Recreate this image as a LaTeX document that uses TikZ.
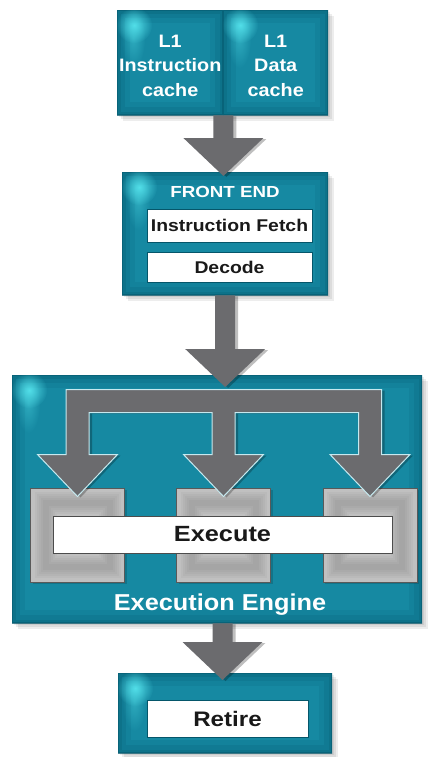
\documentclass[tikz,border=0pt]{standalone}
\usepackage{fontspec}
\setmainfont{Liberation Sans}
\usepackage{graphicx}
\usetikzlibrary{calc,fadings}

\definecolor{tealmid}{HTML}{1689A2}
\definecolor{tealdark}{HTML}{05566A}
\definecolor{tealhi}{HTML}{5AEAF2}
\definecolor{arrowgray}{HTML}{6B6B6E}
\definecolor{unitgray}{HTML}{C0C0C0}
\definecolor{unitdark}{HTML}{6E6E6E}
\definecolor{outlinecyan}{HTML}{C6E9EF}

% soft round glow
\tikzfading[name=softspot, inner color=transparent!0, outer color=transparent!100]

% horizontally widened text
\newcommand\stretchtxt[2]{\scalebox{#1}[1]{#2}}

% straight block arrow: #1 = start of the shaft, #2 = tip
\newcommand\blockarrow[2]{%
  \fill[arrowstyle] let \p1=(#1), \p2=(#2) in
    (\x2-10pt,\y1) -- (\x2+10pt,\y1) -- (\x2+10pt,\y2+38pt) --
    (\x2+40pt,\y2+38pt) -- (\x2,\y2) -- (\x2-40pt,\y2+38pt) --
    (\x2-10pt,\y2+38pt) -- cycle;}

\tikzset{
  softshadow/.style={
    preaction={fill=black,opacity=.07,transform canvas={shift={(2,2)}}},
    preaction={fill=black,opacity=.07,transform canvas={shift={(4,4)}}},
    preaction={fill=black,opacity=.07,transform canvas={shift={(6,6)}}}},
  tealbox/.style={softshadow, rectangle, inner sep=0pt, anchor=north west,
    fill=tealmid,
    path picture={
      \foreach \w/\o in {26/.12, 16/.16, 7/.22, 2/.5}{
        \draw[tealdark, line width=\w pt, opacity=\o]
          (path picture bounding box.north west) rectangle
          (path picture bounding box.south east);}
      \fill[tealhi, path fading=softspot, opacity=.35]
        ([shift={(16,28)}]path picture bounding box.north west)
        ellipse (12 and 30);
      \fill[tealhi, path fading=softspot, opacity=.85]
        ([shift={(17,15)}]path picture bounding box.north west) circle (18);
    }},
  whitebox/.style={rectangle, inner sep=0pt, fill=white, draw=tealdark,
    line width=.8pt, text=black!90},
  unitbox/.style={rectangle, inner sep=0pt, fill=unitgray, draw=black!65,
    line width=1pt, minimum width=94, minimum height=94,
    preaction={fill=black,opacity=.15,transform canvas={shift={(2,2)}}},
    path picture={
      \foreach \w in {22,18,14,10,6}{
        \draw[unitdark, line width=\w pt, opacity=.07]
          ([shift={(15,15)}]path picture bounding box.north west) rectangle
          ([shift={(-15,-15)}]path picture bounding box.south east);}
    }},
  titletext/.style={text=white, align=center, font=\bfseries#1},
  arrowstyle/.style={fill=arrowgray,
    preaction={fill=black,opacity=.25,transform canvas={shift={(3,1)}}}},
}

\begin{document}
\begin{tikzpicture}[x=1pt,y=-1pt]
  \useasboundingbox[fill=white] (0,0) rectangle (432,757);

  % L1 caches
  \node[tealbox, minimum width=106, minimum height=105] (l1i) at (117,10) {};
  \node[tealbox, minimum width=105, minimum height=105] (l1d) at (223,10) {};
  \node[titletext={\fontsize{18}{24.5}\selectfont}] (l1itxt)
    at ([yshift=-3pt]l1i.center)
    {\stretchtxt{1.1}{L1}\\\stretchtxt{1.1}{Instruction}\\\stretchtxt{1.1}{cache}};
  \node[titletext={\fontsize{18}{24.5}\selectfont}] (l1dtxt)
    at ([yshift=-3pt]l1d.center)
    {\stretchtxt{1.1}{L1}\\\stretchtxt{1.1}{Data}\\\stretchtxt{1.1}{cache}};

  % front end
  \node[tealbox, minimum width=206, minimum height=123] (fe) at (122,172) {};
  \node[titletext={\fontsize{16}{18}\selectfont}] (fetitle) at (225,192)
    {\stretchtxt{1.17}{FRONT END}};
  \node[whitebox, minimum width=165, minimum height=33,
        font=\bfseries\fontsize{17}{19}\selectfont] (fetch) at (229.5,225.5)
    {\stretchtxt{1.14}{Instruction Fetch}};
  \node[whitebox, minimum width=165, minimum height=30,
        font=\bfseries\fontsize{17}{19}\selectfont] (decode) at (229.5,267)
    {\stretchtxt{1.14}{Decode}};

  % execution engine
  \node[tealbox, minimum width=410, minimum height=248] (ex) at (12,375) {};
  \node[unitbox] (u1) at (77.5,535) {};
  \node[unitbox] (u2) at (223.5,535) {};
  \node[unitbox] (u3) at (370,535) {};
  \node[whitebox, draw=black!70, minimum width=339, minimum height=37,
        font=\bfseries\fontsize{22}{24}\selectfont] (xt) at (222.5,534.5)
    {\stretchtxt{1.15}{Execute}};
  \node[titletext={\fontsize{23}{25}\selectfont}] (extitle) at (220,605)
    {\stretchtxt{1.1}{Execution Engine}};

  % retire
  \node[tealbox, minimum width=214, minimum height=80] (rt) at (118,673) {};
  \node[whitebox, minimum width=161, minimum height=37,
        font=\bfseries\fontsize{21}{23}\selectfont] (retire) at (227.5,718.5)
    {\stretchtxt{1.15}{Retire}};

  % arrow end points
  \coordinate (a1s) at (l1i.south east);
  \path (l1i.south east |- fe.north) ++(0,4) coordinate (a1t);
  \coordinate (a2s) at (fe.south);
  \path (fe.south |- ex.north) ++(0,12) coordinate (a2t);
  \path (xt.south |- ex.south) coordinate (a3s);
  \path (xt.south |- rt.north) ++(0,7) coordinate (a3t);

  \blockarrow{a1s}{a1t}
  \blockarrow{a2s}{a2t}
  \blockarrow{a3s}{a3t}

  % dispatch to the three execution units
  \filldraw[arrowstyle, draw=outlinecyan, line width=1pt, line join=miter]
    let \p1=(u1.north), \p2=(u2.north), \p3=(u3.north) in
    (\x1-11.5pt,\y1+98pt) -- (\x3+11.5pt,\y1+98pt) --
    (\x3+11.5pt,\y1+33pt) -- (\x3+40pt,\y1+33pt) -- (\x3,\y1-9pt) --
    (\x3-40pt,\y1+33pt) -- (\x3-11.5pt,\y1+33pt) --
    (\x3-11.5pt,\y1+75pt) -- (\x2+11.5pt,\y1+75pt) --
    (\x2+11.5pt,\y1+33pt) -- (\x2+40pt,\y1+33pt) -- (\x2,\y1-9pt) --
    (\x2-40pt,\y1+33pt) -- (\x2-11.5pt,\y1+33pt) --
    (\x2-11.5pt,\y1+75pt) -- (\x1+11.5pt,\y1+75pt) --
    (\x1+11.5pt,\y1+33pt) -- (\x1+40pt,\y1+33pt) -- (\x1,\y1-9pt) --
    (\x1-40pt,\y1+33pt) -- (\x1-11.5pt,\y1+33pt) -- cycle;
\end{tikzpicture}
\end{document}
